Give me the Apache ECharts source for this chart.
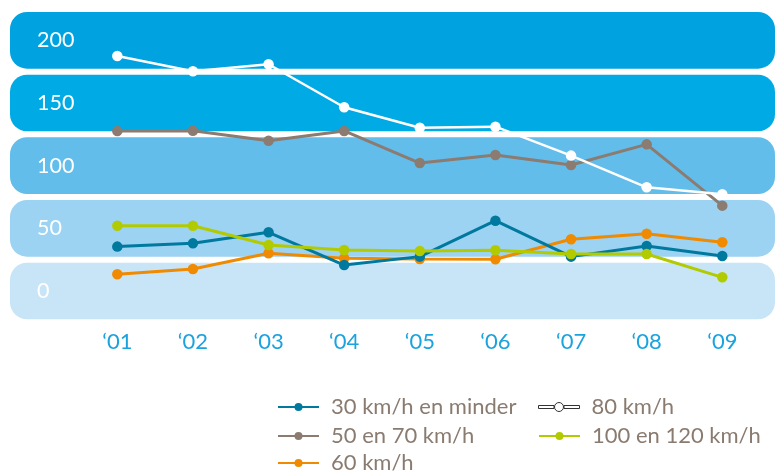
<!DOCTYPE html>
<html>
<head>
<meta charset="utf-8">
<script src="https://cdn.jsdelivr.net/npm/echarts@6/dist/echarts.min.js"></script>
<style>
html,body{margin:0;padding:0;background:#fff;}
#chart{width:778px;height:473px;}
</style>
</head>
<body>
<div id="chart"></div>
<script>
var years = ['\u201801','\u201802','\u201803','\u201804','\u201805','\u201806','\u201807','\u201808','\u201809'];
var yTicks = [0, 50, 100, 150, 200];
var s30 = [35.4, 38.0, 46.8, 20.7, 27.4, 56.1, 27.4, 35.9, 27.9];
var s5070 = [127.7, 127.9, 119.9, 127.7, 102.1, 108.5, 100.5, 117.0, 68.1];
var s60 = [13.3, 17.6, 30.1, 26.1, 25.5, 25.3, 41.3, 45.7, 38.9];
var s80 = [187.5, 175.3, 180.9, 146.6, 130.3, 131.1, 108.0, 82.7, 77.2];
var s100 = [52.1, 52.1, 36.7, 32.7, 31.9, 32.5, 29.5, 29.5, 10.9];
var bands = [[-22.6, 22.6], [27.4, 72.6], [77.4, 122.6], [127.4, 172.6], [177.4, 222.6]];

var bandColors = ['#c8e5f8', '#9cd2f2', '#62bdeb', '#00aae5', '#00a3e0'];
var FONT = 'Lato';
var legendColor = '#8a7b70';

var chart = echarts.init(document.getElementById('chart'));

function lineSeries(name, data, color, lw) {
  return {
    name: name, type: 'line', data: data,
    xAxisIndex: 1, yAxisIndex: 1, z: 5,
    symbol: 'circle', symbolSize: 10.5, showSymbol: true,
    lineStyle: {color: color, width: lw || 3},
    itemStyle: {color: color},
    emphasis: {disabled: true},
    animation: false
  };
}

function legendAt(left, top, item) {
  return {
    orient: 'horizontal', left: left, top: top, itemWidth: 41, itemHeight: 10,
    selectedMode: false, padding: 0,
    textStyle: {color: legendColor, fontFamily: FONT, fontSize: 22, lineHeight: 28, padding: [0, 0, 0, 7]},
    data: [item]
  };
}

var icon80 = 'path://M0,3.5 L15.5,3.5 L15.5,6.5 L0,6.5 Z M25,5 A4.5,4.5 0 1 1 16,5 A4.5,4.5 0 1 1 25,5 Z M25.5,3.5 L41,3.5 L41,6.5 L25.5,6.5 Z';

chart.setOption({
  animation: false,
  grid: [
    {left: 10, right: 3, top: 9, bottom: 150.7},
    {left: 79.5, right: 17.9, top: 9, bottom: 150.7}
  ],
  xAxis: [
    {gridIndex: 0, type: 'value', min: 0, max: 1, show: false},
    {gridIndex: 1, type: 'category', data: years, boundaryGap: true,
     axisLine: {show: false}, axisTick: {show: false}, splitLine: {show: false},
     axisLabel: {color: '#1aa3df', fontFamily: FONT, fontSize: 22, margin: 9}}
  ],
  yAxis: [
    {gridIndex: 0, type: 'value', min: -25, max: 225, interval: 25, z: 4,
     axisLine: {show: false}, axisTick: {show: false}, splitLine: {show: false},
     axisLabel: {inside: true, margin: 27, color: '#ffffff', fontFamily: FONT, fontSize: 21.5,
       formatter: function (v) { return yTicks.indexOf(v) >= 0 ? String(v) : ''; }}},
    {gridIndex: 1, type: 'value', min: -25, max: 225, show: false}
  ],
  legend: [
    legendAt(277, 393, '30 km/h en minder'),
    legendAt(277, 422, '50 en 70 km/h'),
    legendAt(277, 449, '60 km/h'),
    legendAt(538, 393, {name: '80 km/h', icon: icon80,
      itemStyle: {color: '#ffffff', borderColor: '#333333', borderWidth: 1}}),
    legendAt(538, 422, '100 en 120 km/h')
  ],
  series: [
    {
      type: 'custom', xAxisIndex: 0, yAxisIndex: 0, silent: true, z: 1,
      data: bands,
      renderItem: function (params, api) {
        var p1 = api.coord([0, api.value(1)]);
        var p2 = api.coord([1, api.value(0)]);
        return {
          type: 'rect',
          shape: {x: p1[0], y: p1[1], width: p2[0] - p1[0], height: p2[1] - p1[1], r: 17},
          style: {fill: bandColors[params.dataIndex]}
        };
      }
    },
    lineSeries('60 km/h', s60, '#f08a00'),
    lineSeries('30 km/h en minder', s30, '#00799f'),
    lineSeries('50 en 70 km/h', s5070, '#8c7b70'),
    lineSeries('80 km/h', s80, '#ffffff', 2.5),
    lineSeries('100 en 120 km/h', s100, '#b2cb00')
  ]
});
</script>
</body>
</html>
